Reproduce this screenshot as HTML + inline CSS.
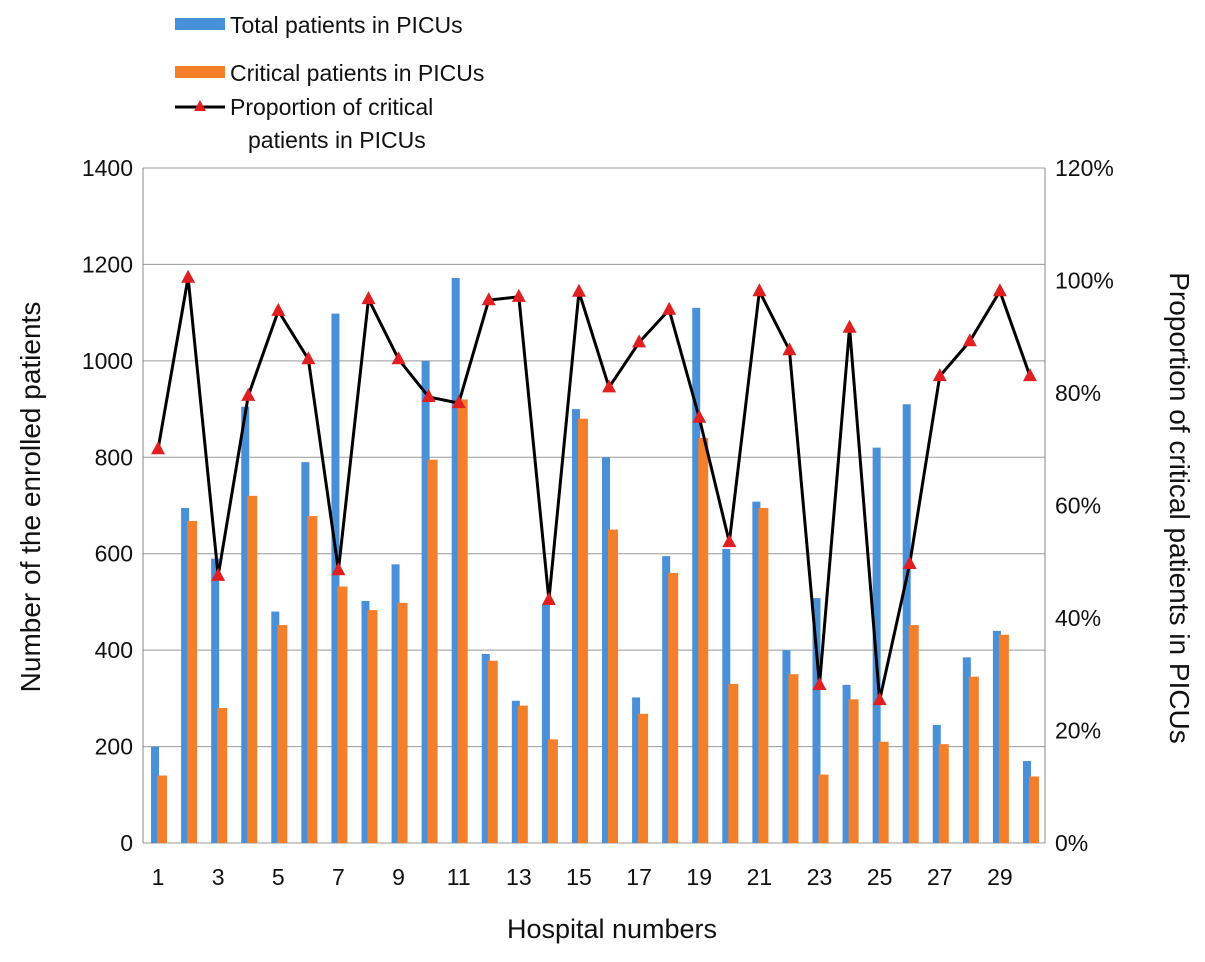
<!DOCTYPE html>
<html><head><meta charset="utf-8"><style>
body{margin:0;background:#fff}
svg text{font-family:"Liberation Sans",sans-serif;fill:#111}
</style></head><body>
<svg id="chart" width="1205" height="957" xmlns="http://www.w3.org/2000/svg">
<g id="grid"></g>
<g id="bars"></g>
<g id="line"></g>
<g id="axes"></g>
<g>
<rect x="175" y="18" width="50" height="12" fill="#4a90d9"/>
<text x="230" y="33" font-size="23">Total patients in PICUs</text>
<rect x="175" y="66" width="50" height="12" fill="#f47f2a"/>
<text x="230" y="81" font-size="23">Critical patients in PICUs</text>
<line x1="175" y1="107" x2="225" y2="107" stroke="#000" stroke-width="3"/>
<polygon points="200,100 206,111 194,111" fill="#e02020"/>
<text x="230" y="115" font-size="23">Proportion of critical</text>
<text x="248" y="148" font-size="23">patients in PICUs</text>
</g>
<text transform="translate(40,497) rotate(-90)" text-anchor="middle" font-size="28">Number of the enrolled patients</text>
<text transform="translate(1170,508) rotate(90)" text-anchor="middle" font-size="28">Proportion of critical patients in PICUs</text>
<text x="612" y="938" text-anchor="middle" font-size="27">Hospital numbers</text>
</svg>
<script>
const categories=[1,2,3,4,5,6,7,8,9,10,11,12,13,14,15,16,17,18,19,20,21,22,23,24,25,26,27,28,29,30];
const totalPatients=[200,695,590,905,480,790,1098,502,578,1000,1172,392,295,495,900,800,302,595,1110,610,708,400,508,328,820,910,245,385,440,170];
const criticalPatients=[140,668,280,720,452,678,532,483,498,795,920,378,285,215,880,650,268,560,840,330,695,350,142,298,210,452,205,345,432,138];
const proportion=[70,100.5,47.5,79.5,94.6,86,48.5,96.7,86,79.3,78.2,96.5,97.1,43.2,98,81,89,94.8,75.6,53.5,98.1,87.6,28.1,91.6,25.4,49.6,83,89.2,98.1,83];
const leftTicks=[0,200,400,600,800,1000,1200,1400];
const rightTicks=[0,20,40,60,80,100,120];
const NS="http://www.w3.org/2000/svg";
const X0=143,X1=1045,Y0=843,Y1=168;
const yL=v=>Y0-(v/1400)*(Y0-Y1);
const yR=v=>Y0-(v/120)*(Y0-Y1);
const bw=(X1-X0)/categories.length;
const xc=i=>X0+bw*(i+0.5);
function mk(tag,attrs,parent){const e=document.createElementNS(NS,tag);for(const k in attrs)e.setAttribute(k,attrs[k]);document.getElementById(parent).appendChild(e);return e;}
leftTicks.forEach(t=>{
 const g=mk('line',{x1:X0,x2:X1,y1:yL(t),y2:yL(t),stroke:'#999','stroke-width':1},'grid');
 
 
 const tx=mk('text',{x:X0-10,y:yL(t)+8,'text-anchor':'end','font-size':23},'axes');tx.textContent=t;
 
 
});
rightTicks.forEach(t=>{
 const tx=mk('text',{x:X1+10,y:yR(t)+8,'font-size':23},'axes');tx.textContent=t+'%';
 
 
});
[[X0,X0],[X1,X1]].forEach(([a,b])=>{const l=mk('line',{x1:a,x2:b,y1:Y1,y2:Y0,stroke:'#888','stroke-width':1},'axes');
 
 });
categories.forEach((c,i)=>{
 const b1=mk('rect',{x:xc(i)-7,y:yL(totalPatients[i]),width:8,height:Y0-yL(totalPatients[i]),fill:'#4a90d9'},'bars');
 
 
 const b2=mk('rect',{x:xc(i)-1,y:yL(criticalPatients[i]),width:10,height:Y0-yL(criticalPatients[i]),fill:'#f47f2a'},'bars');
 
 
 if(c%2===1){const tx=mk('text',{x:xc(i),y:885,'text-anchor':'middle','font-size':23},'axes');tx.textContent=c;
 
 }
});
const pts=proportion.map((v,i)=>xc(i)+','+yR(v)).join(' ');
const pl=mk('polyline',{points:pts,fill:'none',stroke:'#000','stroke-width':3,'stroke-linejoin':'miter'},'line');


proportion.forEach((v,i)=>{const x=xc(i),y=yR(v);
 const m=mk('polygon',{points:`${x},${y-8} ${x+7},${y+5} ${x-7},${y+5}`,fill:'#e02020'},'line');
 
 });
</script>
</body></html>
